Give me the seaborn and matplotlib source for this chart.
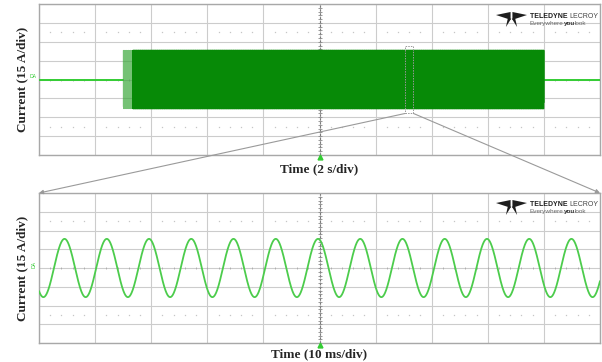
import numpy as np
import pandas as pd
import matplotlib
matplotlib.use("Agg")
import matplotlib.pyplot as plt
import seaborn as sns
from matplotlib.patches import Rectangle, Polygon, ConnectionPatch

# Scope settings
time_div_top_s = 2.0
time_div_bottom_ms = 10.0
current_div_a = 15.0
n_xdiv = 10
n_ydiv = 8

# Waveform parameters
amplitude_a = 23.3
freq_hz = 132.8
peak_offset_ms = -0.27
burst_start_s = -7.0
burst_settled_s = -6.65
burst_end_s = 8.0
zoom_window_s = [3.05, 3.35]
zoom_box_a = [-27.0, 27.0]

top_xlabel = "Time (2 s/div)"
bottom_xlabel = "Time (10 ms/div)"
ylabel = "Current (15 A/div)"

dark_green = "#078a07"
bright_green = "#33cc33"
sine_green = "#4ccc4c"
grid_gray = "#cccccc"

sns.set_theme(style="white")
plt.rcParams["font.family"] = ["Liberation Serif", "DejaVu Serif"]

W, H = 602, 362
fig = plt.figure(figsize=(W / 100, H / 100), dpi=100)


def px_axes(x0, y0, x1, y1):
    return fig.add_axes([x0 / W, 1 - y1 / H, (x1 - x0) / W, (y1 - y0) / H])


ax_top = px_axes(39, 4, 600, 155)
ax_bot = px_axes(39, 193, 600, 343)


def sine(t_s):
    return amplitude_a * np.cos(2 * np.pi * freq_hz * (t_s - peak_offset_ms / 1000.0))


def scope_frame(ax, xdiv):
    xhalf = xdiv * n_xdiv / 2
    yhalf = current_div_a * n_ydiv / 2
    ax.set_xlim(-xhalf, xhalf)
    ax.set_ylim(-yhalf, yhalf)
    ax.set_xticks(np.linspace(-xhalf, xhalf, n_xdiv + 1))
    ax.set_yticks(np.linspace(-yhalf, yhalf, n_ydiv + 1))
    ax.tick_params(length=0, labelbottom=False, labelleft=False)
    ax.grid(True, color=grid_gray, lw=0.8)
    ax.set_axisbelow(True)
    for s in ax.spines.values():
        s.set_color("#a8a8a8")
        s.set_linewidth(1.0)
    # dotted rows at +/- 2.5 div
    sub = np.arange(-xhalf, xhalf + 1e-9, xdiv / 5)
    sub = sub[np.abs(np.round(sub / xdiv) * xdiv - sub) > 1e-6]
    for yy in (2.5 * current_div_a, -2.5 * current_div_a):
        ax.plot(sub, np.full_like(sub, yy), ls="none", marker="s", ms=0.9,
                mew=0, color="#c6c6c6", zorder=1)
    # centre cross with minor ticks
    ax.axvline(0, color="#7a7a7a", lw=0.8, ls=(0, (2, 1.5)), zorder=1.5)
    yt = np.arange(-yhalf, yhalf + 1e-9, current_div_a / 5)
    ax.plot(np.zeros_like(yt), yt, ls="none", marker="_", ms=2.5, mew=0.6,
            color="#8a8a8a", zorder=1.5)
    xt = np.arange(-xhalf, xhalf + 1e-9, xdiv / 5)
    ax.plot(xt, np.zeros_like(xt), ls="none", marker="|", ms=2, mew=0.5,
            color="#a0a0a0", zorder=1.5)
    ax.set_xlabel("")
    ax.set_ylabel(ylabel, fontsize=9.5, fontweight="bold", labelpad=8)
    # trigger marker
    ax.plot([0.5], [-0.012], marker="^", ms=3.5, color=bright_green,
            transform=ax.transAxes, clip_on=False, zorder=5)


# --- top: full acquisition ---
flat_left = pd.DataFrame({"t": [-10.0, burst_start_s], "i": [0.0, 0.0]})
flat_right = pd.DataFrame({"t": [burst_end_s, 10.0], "i": [0.0, 0.0]})
t_start = np.arange(burst_start_s, burst_settled_s, 1 / (freq_hz * 7.3))
startup = pd.DataFrame({"t": t_start, "i": sine(t_start)})
t_run = np.arange(burst_settled_s, burst_end_s, 1 / (freq_hz * 15.7))
run = pd.DataFrame({"t": t_run, "i": sine(t_run)})

for d in (flat_left, flat_right):
    sns.lineplot(data=d, x="t", y="i", ax=ax_top, color=bright_green, lw=1.4,
                 estimator=None, sort=False, zorder=3)
sns.lineplot(data=startup, x="t", y="i", ax=ax_top, color="#3aa83a", lw=0.5,
             alpha=0.7, estimator=None, sort=False, zorder=3)
sns.lineplot(data=run, x="t", y="i", ax=ax_top, color=dark_green, lw=0.7,
             estimator=None, sort=False, zorder=3)
scope_frame(ax_top, time_div_top_s)
ax_top.set_xlabel(top_xlabel, fontsize=9.5, fontweight="bold", labelpad=6)

box = Rectangle((zoom_window_s[0], zoom_box_a[0]),
                zoom_window_s[1] - zoom_window_s[0], zoom_box_a[1] - zoom_box_a[0],
                fill=False, ec="#999999", lw=0.7, ls=(0, (1.5, 1.2)), zorder=4)
ax_top.add_patch(box)

# --- bottom: zoomed window ---
t_ms = np.linspace(-50, 50, 3000)
zoomed = pd.DataFrame({"t": t_ms, "i": sine(t_ms / 1000.0)})
sns.lineplot(data=zoomed, x="t", y="i", ax=ax_bot, color=sine_green, lw=1.3,
             estimator=None, sort=False, zorder=3)
scope_frame(ax_bot, time_div_bottom_ms)
ax_bot.set_xlabel(bottom_xlabel, fontsize=9.5, fontweight="bold", labelpad=4)

# channel tags
fig.text(33 / W, 1 - 77 / H, "DA", fontsize=3.5, color=bright_green,
         family="DejaVu Sans", ha="center", va="center")
fig.text(34 / W, 1 - 264 / H, "DA", fontsize=3.5, color=bright_green,
         family="DejaVu Sans", ha="center", va="center", rotation=90)

# connectors from the zoom box to the lower panel
for xb, xa in ((zoom_window_s[0], 0.0), (zoom_window_s[1], 1.0)):
    con = ConnectionPatch(xyA=(xb, zoom_box_a[0]), coordsA=ax_top.transData,
                          xyB=(xa, 1.0), coordsB=ax_bot.transAxes,
                          arrowstyle="-|>", mutation_scale=6,
                          color="#9a9a9a", lw=0.8, shrinkA=0, shrinkB=0)
    fig.add_artist(con)

renderer = fig.canvas.get_renderer()


def text_run(x_px, y_px, pieces):
    """Place consecutive text pieces on one baseline, left to right."""
    x = x_px
    for s, kw in pieces:
        t = fig.text(x / W, 1 - y_px / H, s, va="baseline", ha="left",
                     family="Liberation Sans", **kw)
        x += t.get_window_extent(renderer).width


def logo(x0, y0):
    unit = [
        [(0.0, 0.20), (0.47, 0.0), (0.47, 0.52)],
        [(1.0, 0.20), (0.53, 0.0), (0.53, 0.52)],
        [(0.38, 0.44), (0.49, 0.44), (0.32, 1.0)],
        [(0.51, 0.44), (0.62, 0.44), (0.68, 1.0)],
    ]
    w, h = 31, 15
    for poly in unit:
        pts = [((x0 + u * w) / W, 1 - (y0 + v * h) / H) for u, v in poly]
        fig.add_artist(Polygon(pts, closed=True, fc="#1e1e1e", ec="none",
                               transform=fig.transFigure))
    text_run(x0 + 34, y0 + 6.5, [
        ("TELEDYNE ", dict(fontsize=5.0, fontweight="bold", color="#1e1e1e")),
        ("LECROY", dict(fontsize=5.0, color="#444444")),
    ])
    text_run(x0 + 34, y0 + 13, [
        ("Everywhere", dict(fontsize=4.6, color="#666666")),
        ("you", dict(fontsize=4.6, fontweight="bold", color="#333333")),
        ("look", dict(fontsize=4.6, color="#666666")),
    ])


logo(496, 12)
logo(496, 200)

fig.savefig("out.png", dpi=100)
